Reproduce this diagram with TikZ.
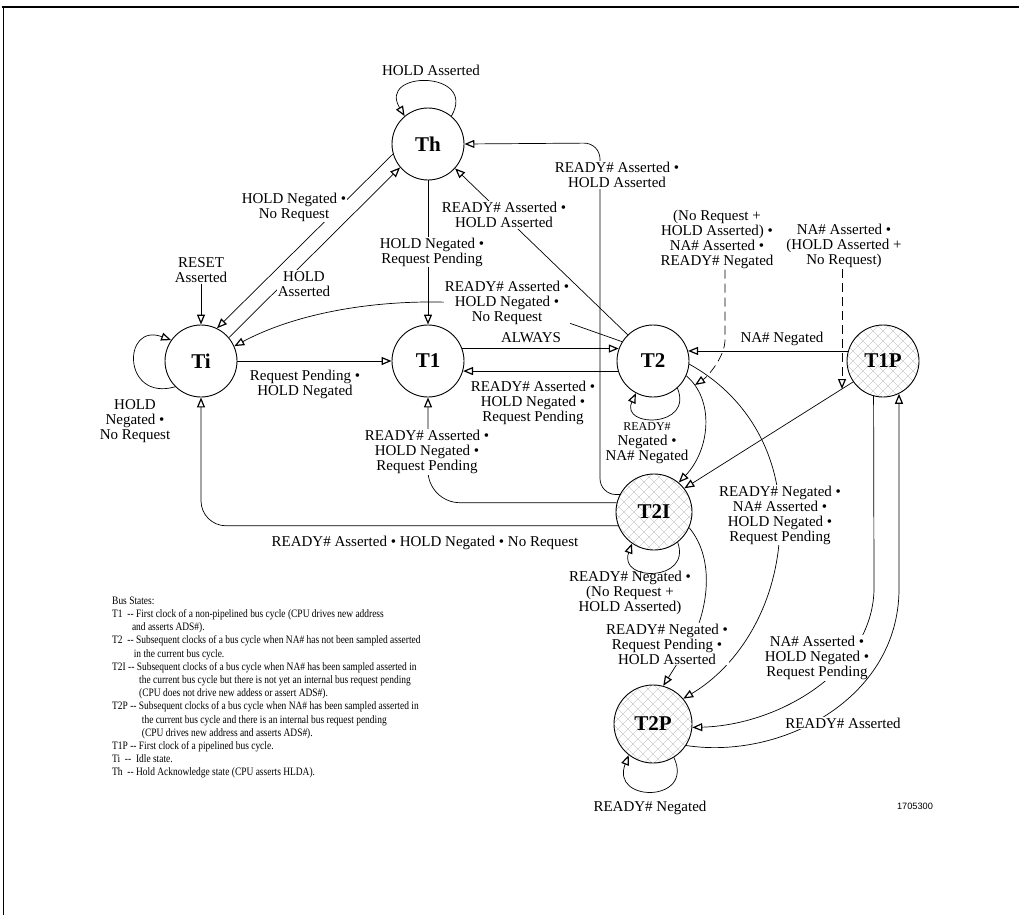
\documentclass[tikz,border=0pt]{standalone}
\usepackage{fontspec}
\setmainfont{Liberation Serif}
\newfontfamily\numfont{Liberation Sans}
\usetikzlibrary{arrows.meta}
\begin{document}
\begin{tikzpicture}[x=1pt,y=1pt,
  >={Triangle[open,length=10pt,width=8pt,line width=1.2pt]},
  st/.style={circle,draw,line width=0.9pt,minimum size=72pt,inner sep=0pt,
    font=\fontsize{21}{21}\selectfont\bfseries},
  hatch/.style={path picture={
    \foreach \k in {-150,-140,...,50}{
      \draw[black!32,line width=0.3pt] (path picture bounding box.center) ++(\k,-50) -- ++(100,100);
      \draw[black!32,line width=0.3pt] (path picture bounding box.center) ++(\k,50) -- ++(100,-100);
    }}},
  conn/.style={line width=0.7pt},
  lab/.style={font=\fontsize{15}{15}\selectfont,align=center,inner sep=1pt},
  wlab/.style={lab,fill=white},
  leader/.style={conn,dash pattern=on 9pt off 5pt}
]
\useasboundingbox (0,0) rectangle (1019,-915);
% frame
\draw[line width=1.8pt] (2,-7) -- (1019,-7);
\draw[line width=1.2pt] (3.5,-7) -- (3.5,-915);

% states
\node[st] (Th) at (428,-144) {Th};
\node[st] (Ti) at (201,-361) {Ti};
\node[st] (T1) at (428,-361) {T1};
\node[st] (T2) at (653,-361) {T2};
\node[st,hatch] (T1P) at (883,-361) {T1P};
\node[st,hatch,minimum size=76pt] (T2I) at (654,-512) {T2I};
\node[st,hatch,minimum size=78pt] (T2P) at (653,-724) {T2P};

% Th self loop
\draw[conn,->] (Th.50) .. controls (478,-70) and (377,-70) .. (Th.130);
\node[lab] (lThh) at (431,-70) {HOLD Asserted};

% Th -> Ti
\draw[conn,->] (Th.196) -- (Ti.64);
\node[wlab] (lThTi) at (294,-207) {HOLD Negated •\\No Request};

% Ti -> Th
\draw[conn,->] (Ti.40) -- (Th.220);
\node[wlab] (lTiTh) at (304,-284) {HOLD\\Asserted};

% RESET
\node[lab] (reset) at (201,-270) {RESET\\Asserted};
\draw[conn,->] (reset) -- (Ti);

% Ti self loop
\draw[conn,->] (Ti.225) .. controls (122,-402) and (122,-322) .. (Ti.145);
\node[lab] (lTiTi) at (135,-421) {HOLD\\Negated •\\No Request};

% Ti -> T1
\draw[conn,->] (Ti) -- (T1);
\node[lab] (lTiT1) at (305,-384) {Request Pending •\\HOLD Negated};

% Th -> T1
\draw[conn,->] (Th) -- (T1);
\node[wlab] (lThT1) at (432,-252) {HOLD Negated •\\Request Pending};

% T2 -> Ti
\draw[conn,->] (T2.148) -- (572,-324) .. controls (480,-290) and (330,-295) .. (Ti.24);
\node[wlab] (lT2Ti) at (507,-303) {READY\# Asserted •\\HOLD Negated •\\No Request};

% T1 -> T2
\draw[conn,->] (T1.20) -- (T2.160);
\node[lab] (lT1T2) at (531,-338) {ALWAYS};

% T2 -> T1
\draw[conn,->] (T2.196) -- (T1.-16);
\node[lab] (lT2T1) at (533,-403) {READY\# Asserted •\\HOLD Negated •\\Request Pending};

% T2 -> Th
\draw[conn,->] (T2.134) -- (Th.318);
\node[wlab] (lT2Th) at (504,-215) {READY\# Asserted •\\HOLD Asserted};

% T2I -> Th
\draw[conn,->,rounded corners=16pt] (T2I.153) -| (600,-143) -- (Th.east);
\node[wlab] (lT2ITh) at (617,-175) {READY\# Asserted •\\HOLD Asserted};

% T2 self loop
\draw[conn,->] (T2.-48) .. controls (694,-428) and (620,-428) .. (T2.-118);
\node[lab] (lT2T2) at (647,-443) {{\fontsize{12}{12}\selectfont READY\#}\\Negated •\\NA\# Negated};

% T2 -> T2I
\draw[conn,->] (T2.-24) .. controls (715,-400) and (710,-450) .. (T2I.50);

% leader 1
\node[lab] (lL1) at (717,-239) {(No Request +\\HOLD Asserted) •\\NA\# Asserted •\\READY\# Negated};
\coordinate (L1end) at (695,-385);
\draw[leader,->] ([xshift=8pt]lL1.south) -- ++(0,-70) .. controls +(0,-18) and +(12,8) .. (L1end);

% leader 2
\node[lab] (lL2) at (844,-246) {NA\# Asserted •\\(HOLD Asserted +\\No Request)};
\coordinate (L2end) at (842,-389);
\draw[leader,->] (lL2.south -| L2end) -- (L2end);

% T1P -> T2
\draw[conn,->] (T1P.164) -- (T2.16);
\node[lab] (lT1PT2) at (782,-339) {NA\# Negated};

% T1P -> T2I
\draw[conn,->] (T1P.215) -- (T2I.38);

% T2 -> T2P
\draw[conn,->] (T2.-5) .. controls (745,-395) and (778,-450) .. (780,-515) .. controls (782,-600) and (740,-665) .. (T2P.40);
\node[wlab] (lT2T2P) at (780,-515) {READY\# Negated •\\NA\# Asserted •\\HOLD Negated •\\Request Pending};

% T2I self loop
\draw[conn,->] (T2I.-52) .. controls (692,-582) and (618,-582) .. (T2I.-125);
\node[lab] (lT2IT2I) at (630,-593) {READY\# Negated •\\(No Request +\\HOLD Asserted)};

% T2I -> T2P
\draw[conn,->] (T2I.-24) .. controls (716,-560) and (707,-610) .. (692,-640) -- (T2P.75);
\node[wlab] (lT2IT2P) at (667,-644) {READY\# Negated •\\Request Pending •\\HOLD Asserted};

% T2I -> T1
\draw[conn,->,rounded corners=32pt] (T2I.166) -| (T1.south);
\node[wlab] (lT2IT1) at (427,-452) {READY\# Asserted •\\HOLD Negated •\\Request Pending};

% T2I -> Ti
\draw[conn,->,rounded corners=25pt] (T2I.201) -| (Ti.south);
\node[lab] (lT2ITi) at (425,-543) {READY\# Asserted • HOLD Negated • No Request};

% T1P -> T2P
\draw[conn,->] (T1P.255) -- (874,-590) .. controls (872,-670) and (780,-725) .. (T2P.-5);
\node[wlab] (lT1PT2P) at (817,-658) {NA\# Asserted •\\HOLD Negated •\\Request Pending};

% T2P -> T1P
\draw[conn,->] (T2P.-33) .. controls (780,-760) and (898,-700) .. (899,-590) -- (T1P.-64);
\node[wlab] (lT2PT1P) at (843,-723) {READY\# Asserted};

% T2P self loop
\draw[conn,->] (T2P.-58) .. controls (695,-803) and (610,-803) .. (T2P.-128);
\node[lab] (lT2PT2P) at (650,-808) {READY\# Negated};

% legend
\node[anchor=north west,inner sep=0pt] (legend) at (112,-595) {%
\scalebox{0.9}[1.08]{\fontsize{10.5}{12.2}\selectfont
\begin{tabular}{@{}l@{}}
Bus States:\\
T1 \ -{}- First clock of a non-pipelined bus cycle (CPU drives new address\\
\hspace*{22pt}and asserts ADS\#).\\
T2 \ -{}- Subsequent clocks of a bus cycle when NA\# has not been sampled asserted\\
\hspace*{24pt}in the current bus cycle.\\
T2I -{}- Subsequent clocks of a bus cycle when NA\# has been sampled asserted in\\
\hspace*{30pt}the current bus cycle but there is not yet an internal bus request pending\\
\hspace*{30pt}(CPU does not drive new addess or assert ADS\#).\\
T2P -{}- Subsequent clocks of a bus cycle when NA\# has been sampled asserted in\\
\hspace*{33pt}the current bus cycle and there is an internal bus request pending\\
\hspace*{33pt}(CPU drives new address and asserts ADS\#).\\
T1P -{}- First clock of a pipelined bus cycle.\\
Ti \ -{}- \ Idle state.\\
Th \ -{}- Hold Acknowledge state (CPU asserts HLDA).
\end{tabular}}};

\node[font=\numfont\fontsize{9.2}{10}\selectfont] (fig) at (915,-806) {1705300};
\end{tikzpicture}
\end{document}
